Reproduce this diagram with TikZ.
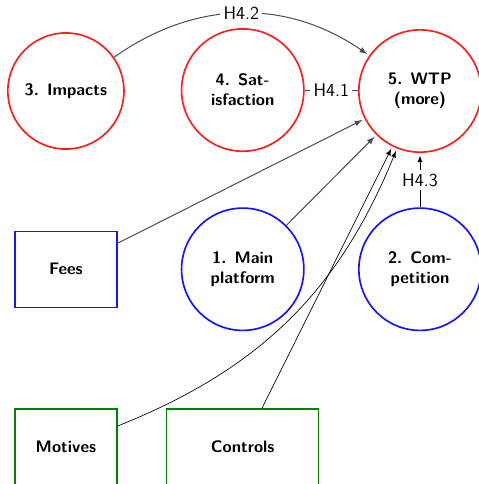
\documentclass[tikz,border=0pt]{standalone}
\usepackage{tikz}
\usetikzlibrary{arrows}
\usepackage{color}
\definecolor{outred}{RGB}{255, 30, 30}
\definecolor{predblue}{RGB}{20, 20, 255}
\definecolor{ctrlgreen}{RGB}{0, 128, 0}

\tikzset{
  construct/.style={circle, draw, line width=1pt, minimum size=2.58cm, inner sep=0pt,
                    align=center, font=\sffamily\bfseries},
  outcome/.style={construct, draw=outred},
  predictor/.style={construct, draw=predblue},
  block/.style={rectangle, draw, line width=0.8pt, minimum width=2.15cm, minimum height=1.6cm,
                font=\sffamily\bfseries},
  hyp/.style={fill=white, font=\sffamily\fontsize{11}{13}\selectfont, inner sep=2pt, text=black},
  link/.style={-latex, shorten >=1.5pt},
  weak/.style={black!70, semithick},
}

\begin{document}
\begin{tikzpicture}
            % Frame to fix the margins:
            \useasboundingbox                                    ( 0.00,  0.00) rectangle (10.10, 10.21);
            % Constructs:
            \node[outcome, minimum size=2.45cm] (impacts)       at ( 1.39,  8.29) {3. Impacts};
            \node[outcome]                      (satisfaction)  at ( 5.12,  8.31) {4. Sat-\\isfaction};
            \node[outcome]                      (wtp)           at ( 8.86,  8.29) {5. WTP\\(more)};
            \node[predictor]                    (main)          at ( 5.12,  4.53) {1. Main\\platform};
            \node[predictor]                    (competition)   at ( 8.86,  4.53) {2. Com-\\petition};
            \node[block, draw=predblue]         (fees)          at ( 1.39,  4.53) {Fees};
            \node[block, draw=ctrlgreen]        (motives)       at ( 1.39,  0.78) {Motives};
            \node[block, draw=ctrlgreen, minimum width=3.21cm]
                                                (controls)      at ( 5.12,  0.78) {Controls};
            % Hypotheses:
            \draw[link, weak] (impacts) to[bend left=35] node[hyp] {H4.2} (wtp);
            \draw[weak]       (satisfaction) -- node[hyp] {H4.1} (wtp);
            \draw[link, weak] (fees) -- (wtp);
            \draw[link, weak] (main) -- (wtp);
            \draw[link]       (competition) -- node[hyp] {H4.3} (wtp);
            \draw[link]       (motives) to[bend right=23] (wtp);
            \draw[link]       (controls) -- (wtp);
        \end{tikzpicture}
\end{document}
